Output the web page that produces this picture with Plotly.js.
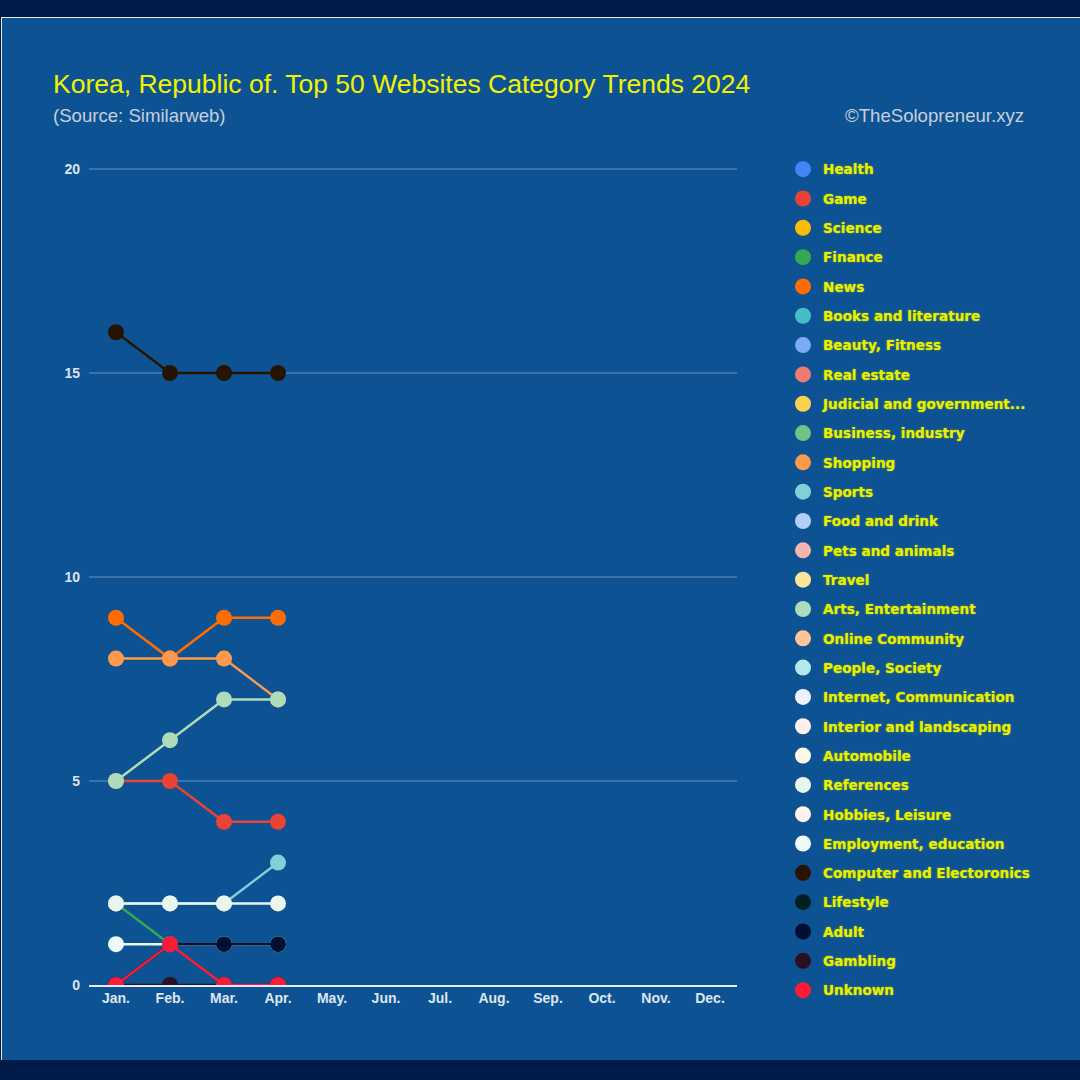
<!DOCTYPE html>
<html>
<head>
<meta charset="utf-8">
<script src="https://cdn.plot.ly/plotly-3.0.1.min.js"></script>
<style>
  html, body { margin: 0; padding: 0; width: 1080px; height: 1080px; background: #001b48; overflow: hidden; }
  #wrap { position: absolute; left: 1px; top: 17px; width: 1079px; height: 1043px; border-top: 1px solid #e8eef5; border-left: 1px solid #e8eef5; box-sizing: border-box; background: #0d5394; }
  #chart { position: absolute; left: 0; top: 0; width: 1078px; height: 1042px; }
</style>
</head>
<body>
<div id="wrap"><div id="chart"></div></div>
<script>
// ---- Data ----
const months = ['Jan.', 'Feb.', 'Mar.', 'Apr.', 'May.', 'Jun.', 'Jul.', 'Aug.', 'Sep.', 'Oct.', 'Nov.', 'Dec.'];

const categories = [
  'Health', 'Game', 'Science', 'Finance', 'News', 'Books and literature',
  'Beauty, Fitness', 'Real estate', 'Judicial and government...', 'Business, industry',
  'Shopping', 'Sports', 'Food and drink', 'Pets and animals', 'Travel',
  'Arts, Entertainment', 'Online Community', 'People, Society', 'Internet, Communication',
  'Interior and landscaping', 'Automobile', 'References', 'Hobbies, Leisure',
  'Employment, education', 'Computer and Electoronics', 'Lifestyle', 'Adult', 'Gambling', 'Unknown'
];

const colors = [
  '#4285f4', '#ea4335', '#fbbc04', '#34a853', '#ff6d01', '#46bdc6',
  '#7baaf7', '#f07b72', '#fcd04f', '#71c287',
  '#ff994d', '#7ed1d7', '#b3cefb', '#f7b4ae', '#fde49b',
  '#aedcba', '#ffc599', '#b5e8eb', '#ecf3fe',
  '#fef0ef', '#fff8e6', '#eaf6ed', '#fff3eb',
  '#eefafa', '#271400', '#012121', '#000f33', '#2a1022', '#ff1a35'
];

// Monthly counts (Jan.-Apr.) of top-50 sites per category; null = not in the top 50
const health = [null, null, null, null];
const game = [5, 5, 4, 4];
const science = [null, null, null, null];
const finance = [2, 1, 1, 1];
const news = [9, 8, 9, 9];
const books = [null, null, null, null];
const beauty = [null, null, null, null];
const realEstate = [null, null, null, null];
const judicial = [null, null, null, null];
const business = [null, null, null, null];
const shopping = [8, 8, 8, 7];
const sports = [2, 2, 2, 3];
const food = [null, null, null, null];
const pets = [null, null, null, null];
const travel = [null, null, null, null];
const arts = [5, 6, 7, 7];
const community = [null, null, null, null];
const people = [null, null, null, null];
const internet = [null, null, null, null];
const interior = [null, null, null, null];
const automobile = [null, null, null, null];
const references = [2, 2, 2, 2];
const hobbies = [null, null, null, null];
const employment = [1, 1, 1, 1];
const computer = [16, 15, 15, 15];
const lifestyle = [null, null, null, null];
const adult = [0, 1, 1, 1];
const gambling = [0, 0, 0, 0];
const unknown = [0, 1, 0, 0];

const seriesValues = [
  health, game, science, finance, news, books, beauty, realEstate, judicial, business,
  shopping, sports, food, pets, travel, arts, community, people, internet,
  interior, automobile, references, hobbies, employment, computer, lifestyle, adult, gambling, unknown
];

const traces = [];
categories.forEach((name, i) => {
  const xs = months.slice(0, seriesValues[i].length);
  // connecting line (not in legend)
  traces.push({
    type: 'scatter', mode: 'lines', name: name, legendgroup: 'g' + i, showlegend: false,
    x: xs, y: seriesValues[i],
    line: { color: colors[i], width: 2.5 }
  });
  // point markers (legend entry shows a plain dot)
  traces.push({
    type: 'scatter', mode: 'markers', name: name, legendgroup: 'g' + i, showlegend: true,
    x: xs, y: seriesValues[i],
    marker: { color: colors[i], size: 16 },
    cliponaxis: true
  });
});

const layout = {
  width: 1078,
  height: 1042,
  paper_bgcolor: '#0d5394',
  plot_bgcolor: '#0d5394',
  margin: { l: 87, r: 343, t: 149, b: 75 },
  font: { family: 'Liberation Sans, Arial, sans-serif', color: '#dde5ef' },
  title: {
    text: 'Korea, Republic of. Top 50 Websites Category Trends 2024',
    font: { family: 'Liberation Sans, Arial, sans-serif', size: 26.5, color: '#f2f200' },
    xref: 'container', x: 51 / 1078, xanchor: 'left',
    yref: 'container', y: 1 - 66 / 1042, yanchor: 'middle'
  },
  xaxis: {
    type: 'category',
    categoryorder: 'array',
    categoryarray: months,
    range: [-0.5, 11.5],
    showgrid: false,
    zeroline: false,
    showline: true,
    linecolor: '#e6edf5',
    linewidth: 1.5,
    ticks: '',
    tickfont: { size: 14, color: '#dde5ef', weight: 'bold' },
    fixedrange: true
  },
  yaxis: {
    range: [0, 20.05],
    tickvals: [0, 5, 10, 15, 20],
    showgrid: true,
    gridcolor: '#3a72aa',
    gridwidth: 1.5,
    zeroline: false,
    showline: false,
    ticks: '',
    ticklabelstandoff: 8,
    tickfont: { size: 14, color: '#dde5ef', weight: 'bold' },
    fixedrange: true
  },
  showlegend: true,
  legend: {
    x: 1.0710, xanchor: 'left',
    y: 1.0161, yanchor: 'top',
    maxheight: 1000,
    bgcolor: 'rgba(0,0,0,0)',
    font: { family: 'DejaVu Sans, Verdana, sans-serif', size: 13.6, color: '#e6f000', weight: 'bold', shadow: '0px 0px 1.5px #b8c400' },
    tracegroupgap: 8.64,
    itemclick: false,
    itemdoubleclick: false
  },
  annotations: [
    {
      text: '(Source: Similarweb)',
      xref: 'paper', yref: 'paper',
      x: (49 - 87) / 648, y: (968 - 98) / 818,
      xanchor: 'left', yanchor: 'middle',
      showarrow: false,
      font: { family: 'Liberation Sans, Arial, sans-serif', size: 18.6, color: '#c5cfdc' }
    },
    {
      text: '©TheSolopreneur.xyz',
      xref: 'paper', yref: 'paper',
      x: (1024 - 87) / 648, y: (968 - 98) / 818,
      xanchor: 'right', yanchor: 'middle',
      showarrow: false,
      font: { family: 'Liberation Sans, Arial, sans-serif', size: 18.6, color: '#c5cfdc' }
    }
  ]
};

Plotly.newPlot('chart', traces, layout, { displayModeBar: false, staticPlot: true });
</script>
</body>
</html>
